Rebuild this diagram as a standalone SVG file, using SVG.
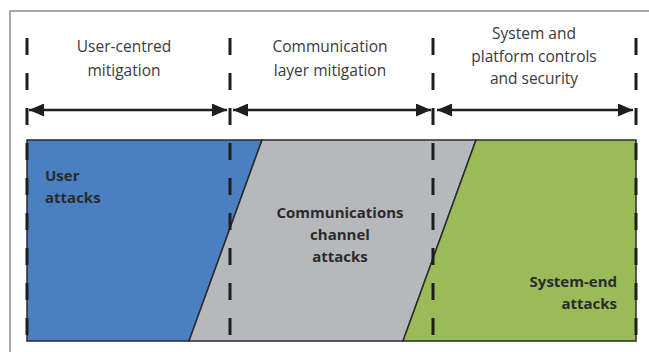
<svg xmlns="http://www.w3.org/2000/svg" width="649" height="352" viewBox="0 0 649 352">
<style>
.frame{fill:none;stroke:#8c8c8c;stroke-width:1.5}
.region{stroke:#2b2b2b;stroke-width:1.5;stroke-linejoin:miter}
.dash{stroke:#1e1e1e;stroke-width:3;stroke-dasharray:17 18;fill:none}
.arrow{stroke:#1e1e1e;stroke-width:2.5;fill:none;marker-start:url(#head);marker-end:url(#head)}
.lbl{font-family:"Open Sans","Liberation Sans",sans-serif;font-size:15.5px;fill:#3a3a3a;text-anchor:middle}
.blbl{font-family:"Open Sans","Liberation Sans",sans-serif;font-size:15px;font-weight:bold;fill:#2b2b2b}
</style>
<defs>
<marker id="head" viewBox="0 0 15 13" refX="15" refY="6.5" markerWidth="15" markerHeight="13" markerUnits="userSpaceOnUse" orient="auto-start-reverse">
<path d="M0,0 L15,6.5 L0,13 Z" fill="#1e1e1e"/>
</marker>
</defs>
<path class="frame" d="M10,352 V11 H649"/>
<g id="user-attacks">
<polygon class="region" fill="#4a7fc1" points="27,140 262,140 189,341 27,341"/>
<text class="blbl" x="45" y="181">User</text>
<text class="blbl" x="45" y="203">attacks</text>
</g>
<g id="channel-attacks">
<polygon class="region" fill="#b7b8bc" points="262,140 476,140 403,341 189,341"/>
<text class="blbl" x="340" y="218" text-anchor="middle">Communications</text>
<text class="blbl" x="340" y="240" text-anchor="middle">channel</text>
<text class="blbl" x="340" y="262" text-anchor="middle">attacks</text>
</g>
<g id="system-attacks">
<polygon class="region" fill="#9bbb59" points="476,140 636,140 636,341 403,341"/>
<text class="blbl" x="617" y="287" text-anchor="end">System-end</text>
<text class="blbl" x="617" y="309" text-anchor="end">attacks</text>
</g>
<g id="user-mitigation">
<text class="lbl" x="124" y="52">User-centred</text>
<text class="lbl" x="124" y="76">mitigation</text>
</g>
<g id="comm-mitigation">
<text class="lbl" x="330" y="52">Communication</text>
<text class="lbl" x="330" y="76">layer mitigation</text>
</g>
<g id="system-mitigation">
<text class="lbl" x="534" y="39">System and</text>
<text class="lbl" x="534" y="62">platform controls</text>
<text class="lbl" x="534" y="84">and security</text>
</g>
<g id="connectors">
<line class="dash" x1="27" y1="38" x2="27" y2="336"/>
<line class="dash" x1="230" y1="38" x2="230" y2="336"/>
<line class="dash" x1="433" y1="38" x2="433" y2="336"/>
<line class="dash" x1="636" y1="38" x2="636" y2="336"/>
<line class="arrow" x1="29" y1="110" x2="227" y2="110"/>
<line class="arrow" x1="233" y1="110" x2="431" y2="110"/>
<line class="arrow" x1="437" y1="110" x2="633" y2="110"/>
</g>
</svg>
